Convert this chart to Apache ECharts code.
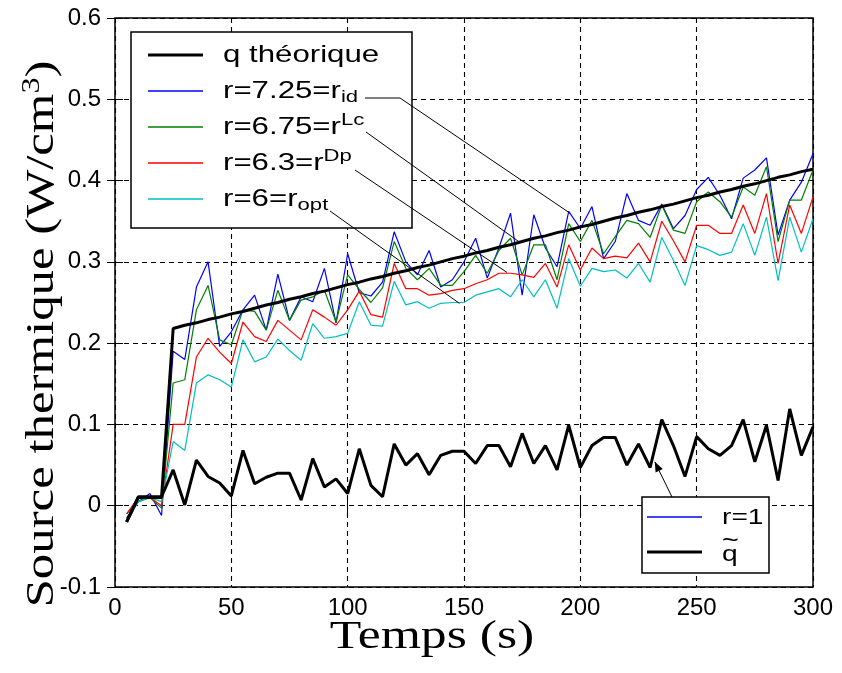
<!DOCTYPE html>
<html>
<head>
<meta charset="utf-8">
<script src="https://cdn.jsdelivr.net/npm/echarts/dist/echarts.min.js"></script>
<style>
html, body { margin: 0; padding: 0; background: #fff; }
#main { width: 842px; height: 673px; }
</style>
</head>
<body>
<div id="main"></div>
<script>
// temps (s)
var time = [5, 10, 15, 20, 25, 30, 35, 40, 45, 50, 55, 60, 65, 70, 75, 80, 85, 90, 95, 100,
    105, 110, 115, 120, 125, 130, 135, 140, 145, 150, 155, 160, 165, 170, 175, 180, 185, 190, 195, 200,
    205, 210, 215, 220, 225, 230, 235, 240, 245, 250, 255, 260, 265, 270, 275, 280, 285, 290, 295, 300];

var qTheorique = [-0.02, 0.01, 0.01, 0.01, 0.218, 0.222, 0.225, 0.229, 0.232, 0.236, 0.239, 0.243, 0.247, 0.250, 0.254, 0.257, 0.261, 0.264, 0.268, 0.272,
    0.275, 0.279, 0.282, 0.286, 0.289, 0.293, 0.296, 0.300, 0.304, 0.307, 0.311, 0.314, 0.318, 0.321, 0.325, 0.329, 0.332, 0.336, 0.339, 0.343,
    0.346, 0.350, 0.354, 0.357, 0.361, 0.364, 0.368, 0.371, 0.375, 0.379, 0.382, 0.386, 0.389, 0.393, 0.396, 0.400, 0.404, 0.407, 0.411, 0.414];

// r=7.25=r_id
var rId = [-0.015, 0.005, 0.015, -0.012, 0.19, 0.18, 0.269, 0.30, 0.196, 0.214, 0.241, 0.259, 0.216, 0.285, 0.228, 0.257, 0.251, 0.292, 0.225, 0.310,
    0.262, 0.258, 0.275, 0.337, 0.300, 0.284, 0.314, 0.269, 0.278, 0.300, 0.329, 0.280, 0.317, 0.360, 0.259, 0.358, 0.317, 0.294, 0.362, 0.341,
    0.368, 0.304, 0.325, 0.384, 0.351, 0.345, 0.371, 0.341, 0.357, 0.389, 0.404, 0.382, 0.353, 0.403, 0.413, 0.428, 0.333, 0.376, 0.398, 0.433];

// r=6.75=r^Lc
var rLc = [-0.01, 0.005, 0.01, -0.003, 0.151, 0.155, 0.241, 0.271, 0.204, 0.198, 0.241, 0.239, 0.216, 0.265, 0.228, 0.253, 0.257, 0.265, 0.226, 0.284,
    0.266, 0.250, 0.268, 0.325, 0.292, 0.278, 0.292, 0.271, 0.271, 0.288, 0.308, 0.286, 0.314, 0.329, 0.284, 0.321, 0.321, 0.278, 0.347, 0.325,
    0.351, 0.310, 0.331, 0.351, 0.347, 0.330, 0.370, 0.339, 0.335, 0.374, 0.386, 0.374, 0.355, 0.392, 0.382, 0.417, 0.325, 0.376, 0.376, 0.413];

// r=6.3=r^Dp
var rDp = [-0.01, 0.01, 0.01, 0.0, 0.10, 0.10, 0.183, 0.206, 0.189, 0.175, 0.226, 0.208, 0.202, 0.228, 0.216, 0.204, 0.241, 0.232, 0.222, 0.241,
    0.264, 0.235, 0.232, 0.298, 0.267, 0.267, 0.259, 0.261, 0.265, 0.267, 0.273, 0.278, 0.286, 0.286, 0.284, 0.281, 0.298, 0.269, 0.321, 0.290,
    0.317, 0.304, 0.307, 0.305, 0.323, 0.300, 0.350, 0.326, 0.300, 0.345, 0.345, 0.335, 0.335, 0.370, 0.335, 0.384, 0.298, 0.370, 0.335, 0.380];

// r=6=r_opt
var rOpt = [-0.02, 0.005, 0.01, 0.005, 0.079, 0.068, 0.151, 0.161, 0.155, 0.146, 0.204, 0.177, 0.183, 0.205, 0.191, 0.179, 0.224, 0.206, 0.208, 0.212,
    0.251, 0.222, 0.221, 0.276, 0.247, 0.251, 0.243, 0.249, 0.250, 0.250, 0.259, 0.263, 0.267, 0.257, 0.278, 0.257, 0.278, 0.243, 0.304, 0.270,
    0.292, 0.288, 0.290, 0.280, 0.298, 0.275, 0.330, 0.302, 0.271, 0.320, 0.315, 0.308, 0.312, 0.347, 0.308, 0.355, 0.277, 0.355, 0.312, 0.353];

// q tilde (r=1 lies underneath it)
var qTilde = [-0.02, 0.011, 0.011, 0.011, 0.044, 0.001, 0.056, 0.036, 0.028, 0.012, 0.068, 0.027, 0.035, 0.040, 0.040, 0.007, 0.058, 0.023, 0.033, 0.015,
    0.070, 0.025, 0.011, 0.076, 0.050, 0.064, 0.038, 0.062, 0.067, 0.067, 0.052, 0.074, 0.074, 0.048, 0.089, 0.052, 0.074, 0.044, 0.099, 0.047,
    0.074, 0.084, 0.084, 0.050, 0.076, 0.047, 0.106, 0.074, 0.036, 0.085, 0.070, 0.062, 0.074, 0.106, 0.054, 0.099, 0.031, 0.119, 0.062, 0.097];

var xMin = 0, xMax = 300, xStep = 50;
var yMin = -0.1, yMax = 0.6, yStep = 0.1;

var SANS = "'Liberation Sans', Arial, sans-serif";
var SERIF = "'Liberation Serif', 'Times New Roman', serif";

var myChart = echarts.init(document.getElementById('main'));

function pairs(vals) {
    return time.map(function (t, i) { return [t, vals[i]]; });
}

function lineSeries(name, vals, color, width, z) {
    return {
        name: name,
        type: 'line',
        data: pairs(vals),
        showSymbol: false,
        symbol: 'none',
        lineStyle: {color: color, width: width},
        z: z,
        silent: true
    };
}

var tickStyle = {show: true, inside: true, length: 8, lineStyle: {color: '#000', width: 1}};
var dashed = {show: true, lineStyle: {color: '#000', width: 1.1, type: [5, 4]}};

var option = {
    animation: false,
    backgroundColor: '#fff',
    grid: {left: 115, right: 29, top: 18, bottom: 86, show: true, borderColor: '#000', borderWidth: 1.5, backgroundColor: '#fff'},
    xAxis: [
        {type: 'value', min: xMin, max: xMax, interval: xStep,
            axisLine: {show: false}, axisTick: tickStyle, splitLine: dashed,
            axisLabel: {color: '#000', fontFamily: SANS, fontSize: 24, margin: 9}},
        {type: 'value', position: 'top', min: xMin, max: xMax, interval: xStep,
            axisLine: {show: false}, axisTick: tickStyle, splitLine: {show: false}, axisLabel: {show: false}}
    ],
    yAxis: [
        {type: 'value', min: yMin, max: yMax, interval: yStep,
            axisLine: {show: false}, axisTick: tickStyle, splitLine: dashed,
            axisLabel: {color: '#000', fontFamily: SANS, fontSize: 24, margin: 14}},
        {type: 'value', position: 'right', min: yMin, max: yMax, interval: yStep,
            axisLine: {show: false}, axisTick: tickStyle, splitLine: {show: false}, axisLabel: {show: false}}
    ],
    series: [
        lineSeries('r=1', qTilde, '#0000ff', 1.2, 2),
        lineSeries('r=7.25', rId, '#0000ff', 1.2, 3),
        lineSeries('r=6.75', rLc, '#008000', 1.2, 4),
        lineSeries('r=6.3', rDp, '#ff0000', 1.2, 5),
        lineSeries('r=6', rOpt, '#00bfbf', 1.2, 6),
        lineSeries('q théorique', qTheorique, '#000000', 3, 7),
        lineSeries('q tilde', qTilde, '#000000', 3, 8)
    ]
};

myChart.setOption(option);

function px(t, v) {
    return myChart.convertToPixel({xAxisIndex: 0, yAxisIndex: 0}, [t, v]);
}

var richLegend = {
    sub: {fontFamily: SANS, fontSize: 17, lineHeight: 14, verticalAlign: 'bottom'},
    sup: {fontFamily: SANS, fontSize: 17, lineHeight: 20, verticalAlign: 'top'}
};

function label(x, y, text, size, sx) {
    return {
        type: 'text', x: x, y: y, scaleX: sx, z: 110,
        style: {text: text, fontFamily: SANS, fontSize: size, lineHeight: 30, fill: '#000',
            align: 'left', verticalAlign: 'middle', rich: richLegend}
    };
}

function sample(x, y, color, width) {
    return {type: 'line', z: 110, shape: {x1: x, y1: y, x2: x + 55, y2: y},
        style: {stroke: color, lineWidth: width}};
}

function pointer(points) {
    return {type: 'polyline', z: 112, shape: {points: points}, style: {stroke: '#000', lineWidth: 1, fill: null}};
}

// arrow to q tilde
var tip = px(232, 0.054);
var tail = [672, 497];
var ang = Math.atan2(tip[1] - tail[1], tip[0] - tail[0]);
var ah = 10, aw = 4;
var base = [tip[0] - ah * Math.cos(ang), tip[1] - ah * Math.sin(ang)];
var arrowHead = [tip,
    [base[0] + aw * Math.sin(ang), base[1] - aw * Math.cos(ang)],
    [base[0] - aw * Math.sin(ang), base[1] + aw * Math.cos(ang)]];

var rows = [55, 91, 127, 163, 199];

myChart.setOption({
    graphic: [
        // axis titles
        {type: 'text', x: 42, y: 334, rotation: Math.PI / 2, scaleX: 1.24, z: 110,
            style: {text: 'Source thermique (W/cm{sup|3})', fontFamily: SERIF, fontSize: 41, lineHeight: 46,
                fill: '#000', align: 'center', verticalAlign: 'middle',
                rich: {sup: {fontFamily: SERIF, fontSize: 26, lineHeight: 22, verticalAlign: 'top'}}}},
        {type: 'text', x: 432, y: 637, scaleX: 1.26, z: 110,
            style: {text: 'Temps (s)', fontFamily: SERIF, fontSize: 41, fill: '#000', align: 'center', verticalAlign: 'middle'}},

        // pointer lines from legend labels to curves
        pointer([[365, 98], [400, 98], px(195.5, 0.36)]),
        pointer([[366, 132], px(174, 0.324)]),
        pointer([[355, 170], px(168.5, 0.287)]),
        pointer([[330, 211], px(148, 0.249)]),
        pointer([tail, tip]),
        {type: 'polygon', z: 112, shape: {points: arrowHead}, style: {fill: '#000'}},

        // main legend
        {type: 'rect', z: 105, shape: {x: 131, y: 32, width: 281, height: 196},
            style: {fill: '#fff', stroke: '#000', lineWidth: 1.5}},
        sample(148, rows[0], '#000000', 3),
        sample(148, rows[1], '#0000ff', 1.5),
        sample(148, rows[2], '#008000', 1.5),
        sample(148, rows[3], '#ff0000', 1.5),
        sample(148, rows[4], '#00bfbf', 1.5),
        label(223, rows[0], 'q théorique', 24, 1.3),
        label(223, rows[1], 'r=7.25=r{sub|id}', 24, 1.3),
        label(223, rows[2], 'r=6.75=r{sup|Lc}', 24, 1.3),
        label(223, rows[3], 'r=6.3=r{sup|Dp}', 24, 1.3),
        label(223, rows[4], 'r=6=r{sub|opt}', 24, 1.3),

        // second legend
        {type: 'rect', z: 105, shape: {x: 642, y: 497, width: 127, height: 76},
            style: {fill: '#fff', stroke: '#000', lineWidth: 1.5}},
        sample(647, 517, '#0000ff', 1.5),
        sample(647, 552, '#000000', 3),
        label(722, 518, 'r=1', 22, 1.28),
        label(722, 555, 'q', 22, 1.28),
        {type: 'text', x: 722, y: 541, scaleX: 1.2, z: 111,
            style: {text: '~', fontFamily: SANS, fontSize: 24, fill: '#000', align: 'left', verticalAlign: 'middle'}}
    ]
});
</script>
</body>
</html>
